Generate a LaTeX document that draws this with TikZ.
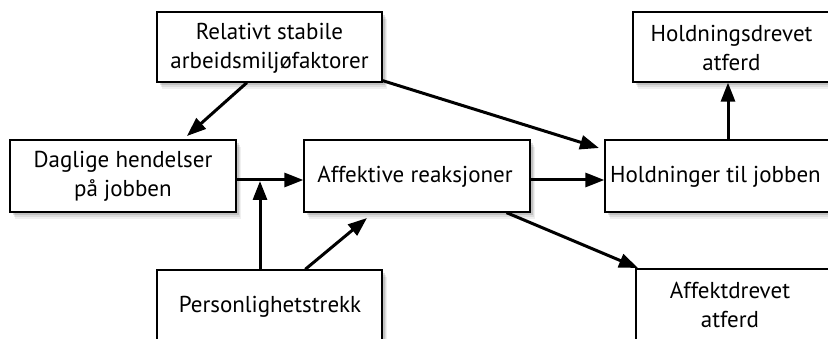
\documentclass[tikz,border=0pt]{standalone}
\usepackage{fontspec}
\setmainfont{PT Sans}
\usetikzlibrary{arrows.meta,shadows,calc}
\begin{document}
\begin{tikzpicture}[x=1pt,y=-1pt,
  box/.style={draw, line width=1.3pt, fill=white, inner sep=0pt,
    drop shadow={shadow xshift=5pt, shadow yshift=-7pt, opacity=0.06, fill=black},
    drop shadow={shadow xshift=4pt, shadow yshift=-5pt, opacity=0.08, fill=black},
    drop shadow={shadow xshift=3pt, shadow yshift=-3pt, opacity=0.12, fill=black}},
  txt/.style={align=center, inner sep=0pt, font=\fontsize{23}{29}\selectfont},
  arr/.style={line width=3pt, -{Triangle[length=19pt,width=14pt]}}]
\useasboundingbox (0,0) rectangle (828,339);
% boxes
\node[box, minimum width=225pt, minimum height=70pt] (b1) at (269.5,47) {};
\node[box, minimum width=226pt, minimum height=72pt] (b2) at (123,176) {};
\node[box, minimum width=226pt, minimum height=72pt] (b3) at (417,176) {};
\node[box, minimum width=235pt, minimum height=72pt] (b4) at (722.5,176) {};
\node[box, minimum width=217pt, minimum height=70pt] (b5) at (741.5,47) {};
\node[box, minimum width=225pt, minimum height=72pt] (b6) at (269.5,306) {};
\node[box, minimum width=214pt, minimum height=72pt] (b7) at (743,305) {};
% texts
\node[txt] (t1) at (269.5,48) {Relativt stabile\\arbeidsmiljøfaktorer};
\node[txt] (t2) at (123,176) {Daglige hendelser\\på jobben};
\node[txt] (t3) at (415,177) {Affektive reaksjoner};
\node[txt] (t4) at (715.5,177) {Holdninger til jobben};
\node[txt] (t5) at (731.5,48) {Holdningsdrevet\\atferd};
\node[txt] (t6) at (270,307) {Personlighetstrekk};
\node[txt] (t7) at (730,305) {Affektdrevet\\atferd};
% connector ends
\coordinate (j) at (260,180);
\coordinate (e12) at (187,136);
\coordinate (e14) at (599,148);
\coordinate (e63) at (367,218);
\coordinate (e37) at (638,268);
% connectors
\draw[arr] ($(b1.south west)!0.4!(b1.south east)$) -- (e12);
\draw[arr] ([yshift=2pt]b1.south east) -- (e14);
\draw[arr] (b2.east |- j) -- (b3.west |- j);
\draw[arr] (b6.north -| j) -- ([yshift=-1pt]j);
\draw[arr] ($(b6.north west)!0.658!(b6.north east)$) -- (e63);
\draw[arr] (b3.east |- j) -- (b4.west |- j);
\draw[arr] (b4.north -| 728,0) -- (b5.south -| 728,0);
\draw[arr] ($(b3.south west)!0.894!(b3.south east)$) -- (e37);
\end{tikzpicture}
\end{document}
